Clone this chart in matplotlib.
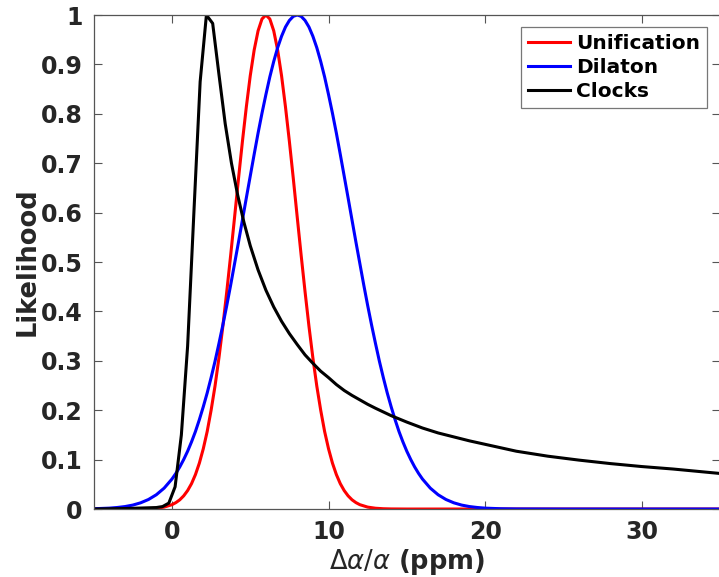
import numpy as np
import matplotlib
matplotlib.use("Agg")
import matplotlib.pyplot as plt

# Unification likelihood (red)
x_unif = [-5, -3, -2, -1.5, -1, -0.5, 0, 0.25, 0.5, 0.75, 1, 1.25, 1.5, 1.75,
          2, 2.25, 2.5, 2.75, 3, 3.25, 3.5, 3.75, 4, 4.25, 4.5, 4.75, 5, 5.25,
          5.5, 5.75, 6, 6.25, 6.5, 6.75, 7, 7.25, 7.5, 7.75, 8, 8.25, 8.5, 8.75,
          9, 9.25, 9.5, 9.75, 10, 10.25, 10.5, 10.75, 11, 11.25, 11.5, 11.75,
          12, 12.5, 13, 13.5, 14, 15, 35]
y_unif = [0.0, 0.0, 0.0002, 0.0006, 0.0016, 0.0039, 0.0088, 0.0130, 0.0187,
          0.0267, 0.0374, 0.0514, 0.0698, 0.0930, 0.122, 0.157, 0.200, 0.249,
          0.306, 0.370, 0.440, 0.514, 0.591, 0.669, 0.744, 0.814, 0.877, 0.929,
          0.968, 0.992, 1.0, 0.992, 0.968, 0.929, 0.877, 0.814, 0.744, 0.669,
          0.591, 0.514, 0.440, 0.370, 0.306, 0.249, 0.200, 0.157, 0.122, 0.0930,
          0.0698, 0.0514, 0.0374, 0.0267, 0.0187, 0.0130, 0.0088, 0.0039, 0.0016,
          0.0006, 0.0002, 0.0, 0.0]

# Dilaton likelihood (blue)
x_dil = [-5, -4, -3.5, -3, -2.5, -2, -1.5, -1, -0.5, 0, 0.25, 0.5, 0.75, 1,
         1.25, 1.5, 1.75, 2, 2.25, 2.5, 2.75, 3, 3.25, 3.5, 3.75, 4, 4.25, 4.5,
         4.75, 5, 5.25, 5.5, 5.75, 6, 6.25, 6.5, 6.75, 7, 7.25, 7.5, 7.75, 8,
         8.25, 8.5, 8.75, 9, 9.25, 9.5, 9.75, 10, 10.25, 10.5, 10.75, 11, 11.25,
         11.5, 11.75, 12, 12.25, 12.5, 12.75, 13, 13.25, 13.5, 13.75, 14, 14.25,
         14.5, 14.75, 15, 15.25, 15.5, 15.75, 16, 16.5, 17, 17.5, 18, 18.5, 19,
         19.5, 20, 21, 22, 25, 35]
y_dil = [0.0006, 0.0018, 0.0031, 0.0050, 0.0080, 0.0126, 0.0193, 0.0289, 0.0423,
         0.0607, 0.0722, 0.0853, 0.1003, 0.117, 0.136, 0.157, 0.181, 0.207,
         0.235, 0.266, 0.299, 0.335, 0.3725, 0.412, 0.4536, 0.497, 0.5404, 0.585,
         0.6298, 0.674, 0.718, 0.761, 0.8013, 0.839, 0.8746, 0.906, 0.9339, 0.957,
         0.9757, 0.989, 0.9973, 1.0, 0.9973, 0.989, 0.9757, 0.957, 0.9339, 0.906,
         0.8746, 0.839, 0.8013, 0.761, 0.718, 0.674, 0.6298, 0.585, 0.5404, 0.497,
         0.4536, 0.412, 0.3725, 0.335, 0.299, 0.266, 0.235, 0.207, 0.181, 0.157,
         0.136, 0.117, 0.1003, 0.0853, 0.0722, 0.0607, 0.0423, 0.0289, 0.0193,
         0.0126, 0.0080, 0.0050, 0.0031, 0.0018, 0.0006, 0.0002, 0.0, 0.0]

# Clocks likelihood (black)
x_clk = [-5, -3, -1, -0.6, -0.2, 0.2, 0.6, 1.0, 1.4, 1.8, 2.2, 2.6, 3.0, 3.4, 3.8,
         4.2, 4.6, 5.0, 5.5, 6, 6.5, 7, 7.5, 8, 8.5, 9, 9.5, 10, 10.5, 11, 11.5,
         12, 12.5, 13, 14, 15, 16, 17, 18, 19, 20, 21, 22, 23, 24, 26, 28, 30,
         32, 34, 35]
y_clk = [0.0, 0.001, 0.003, 0.005, 0.012, 0.045, 0.15, 0.33, 0.60, 0.865, 1.0,
         0.983, 0.88, 0.78, 0.70, 0.635, 0.58, 0.533, 0.484, 0.443, 0.409, 0.38,
         0.355, 0.333, 0.312, 0.295, 0.279, 0.266, 0.252, 0.240, 0.230, 0.221,
         0.212, 0.204, 0.189, 0.176, 0.164, 0.154, 0.146, 0.138, 0.131, 0.124,
         0.117, 0.112, 0.107, 0.099, 0.092, 0.086, 0.081, 0.075, 0.072]

labels = ["Unification", "Dilaton", "Clocks"]
x_ticks = [0, 10, 20, 30]
y_ticks = [0, 0.1, 0.2, 0.3, 0.4, 0.5, 0.6, 0.7, 0.8, 0.9, 1]
y_tick_labels = ["0", "0.1", "0.2", "0.3", "0.4", "0.5", "0.6", "0.7", "0.8", "0.9", "1"]

plt.rcParams["font.family"] = "DejaVu Sans"
plt.rcParams["mathtext.fontset"] = "dejavusans"

fig = plt.figure(figsize=(7.19, 5.77), dpi=100)
ax = fig.add_axes([0.1303, 0.1178, 0.871, 0.8562])

ax.plot(x_unif, y_unif, color="red", lw=2.2, label=labels[0])
ax.plot(x_dil, y_dil, color="blue", lw=2.2, label=labels[1])
ax.plot(x_clk, y_clk, color="black", lw=2.2, label=labels[2])

ax.set_xlim(-5, 35)
ax.set_ylim(0, 1)
ax.set_xticks(x_ticks)
ax.set_yticks(y_ticks)
ax.set_yticklabels(y_tick_labels)

txt = "#262626"
for s in ax.spines.values():
    s.set_color("#555555")
    s.set_linewidth(0.9)
ax.tick_params(direction="in", top=True, right=True, length=6, width=0.8,
               color="#555555", labelcolor=txt, labelsize=17, pad=8)
for lab in ax.get_xticklabels() + ax.get_yticklabels():
    lab.set_fontweight("bold")

ax.set_xlabel(r"$\Delta\alpha/\alpha$ (ppm)", fontsize=18.5, fontweight="bold",
              color=txt, labelpad=2)
ax.set_ylabel("Likelihood", fontsize=18.5, fontweight="bold", color=txt, labelpad=0)

leg = ax.legend(loc="upper right", bbox_to_anchor=(0.9833, 0.9527),
                bbox_transform=fig.transFigure, fontsize=14.5, frameon=True,
                fancybox=False, framealpha=1, handlelength=2.1,
                handletextpad=0.3, labelspacing=0.25, borderpad=0.35,
                borderaxespad=0)
leg.get_frame().set_edgecolor("#777777")
leg.get_frame().set_linewidth(0.9)
for t in leg.get_texts():
    t.set_fontweight("bold")

fig.savefig("out.png", dpi=100)
